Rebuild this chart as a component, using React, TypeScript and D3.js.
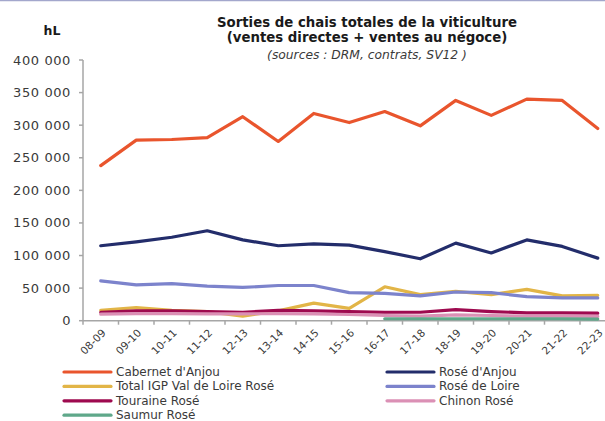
import React from "react";
import * as d3 from "d3";

const categories = ["08-09","09-10","10-11","11-12","12-13","13-14","14-15","15-16","16-17","17-18","18-19","19-20","20-21","21-22","22-23"];
const yTicks = [0, 50000, 100000, 150000, 200000, 250000, 300000, 350000, 400000];

const cabernetAnjou = [238000,277000,278000,281000,313000,275000,318000,304000,321000,299000,338000,315000,340000,338000,295000];
const roseAnjou = [115000,121000,128000,138000,124000,115000,118000,116000,106000,95000,119000,104000,124000,114000,96000];
const igpValLoire = [16000,20000,16000,14000,7000,15000,27000,19000,52000,40000,45000,40000,48000,38000,39000];
const roseLoire = [61000,55000,57000,53000,51000,54000,54000,43000,42000,38000,44000,43000,37000,35000,35000];
const touraineRose = [13000,15000,15000,14000,13000,16000,15000,14000,13000,13000,17000,14000,12000,12000,11500];
const chinonRose = [10000,11000,11000,10500,10500,11000,10500,9500,8000,7000,9000,8000,7000,7000,6500];
const saumurRose = [null,null,null,null,null,null,null,null,3000,3000,3000,3000,3000,3000,2500];

const seriesNames = ["Cabernet d'Anjou","Rosé d'Anjou","Total IGP Val de Loire Rosé","Rosé de Loire","Touraine Rosé","Chinon Rosé","Saumur Rosé"];
const seriesValues = [cabernetAnjou, roseAnjou, igpValLoire, roseLoire, touraineRose, chinonRose, saumurRose];
const seriesColors = ["#E9552D","#232D6B","#E2B547","#7C83CC","#9E0A4F","#DB90B5","#5FA88A"];

export default function App() {
  const W = 605, H = 421;
  const axisX = 83;
  const step = 35.5;
  const x = d3.scalePoint<string>().domain(categories).range([axisX + step / 2, axisX + step / 2 + step * (categories.length - 1)]);
  const y = d3.scaleLinear().domain([0, 400000]).range([320.7, 60]);
  const line = d3.line<number | null>()
    .defined((d) => d !== null)
    .x((_, i) => x(categories[i]) as number)
    .y((d) => y(d as number));
  const fmt = (v: number) => d3.format(",")(v).replace(/,/g, " ");
  const font = "'DejaVu Sans', sans-serif";
  const textColor = "#3a3a3a";
  const axisColor = "#a6a6a6";
  const tickBoundaries = d3.range(categories.length + 1).map((i) => axisX + i * step);

  return (
    <svg width={W} height={H} style={{ position: "fixed", left: 0, top: 0, background: "#fff" }} fontFamily={font}>
      <rect x={0} y={0} width={W} height={H} fill="#fff" />
      <line x1={0} x2={W} y1={0.5} y2={0.5} stroke="#a3a7cc" strokeWidth={1.5} />
      <text x={367} y={27} textAnchor="middle" fontSize={13.3} fontWeight="bold" fill="#1a1a1a">Sorties de chais totales de la viticulture</text>
      <text x={367} y={42} textAnchor="middle" fontSize={13.3} fontWeight="bold" fill="#1a1a1a">(ventes directes + ventes au négoce)</text>
      <text x={367} y={59} textAnchor="middle" fontSize={12.3} fontStyle="italic" fill={textColor}>(sources : DRM, contrats, SV12 )</text>
      <text x={52} y={35} textAnchor="middle" fontSize={12.5} fontWeight="bold" fill="#1a1a1a">hL</text>

      <line x1={axisX} x2={axisX} y1={y(400000)} y2={y(0)} stroke={axisColor} strokeWidth={1.5} />
      {yTicks.map((t) => (
        <g key={t}>
          <line x1={axisX - 4} x2={axisX} y1={y(t)} y2={y(t)} stroke={axisColor} strokeWidth={1.5} />
          <text x={71} y={y(t) + 4.5} textAnchor="end" fontSize={13} letterSpacing={0.6} fill={textColor}>{fmt(t)}</text>
        </g>
      ))}
      <line x1={axisX} x2={W} y1={y(0)} y2={y(0)} stroke={axisColor} strokeWidth={1.5} />
      {tickBoundaries.map((bx, i) => (
        <line key={i} x1={bx} x2={bx} y1={y(0)} y2={y(0) + 4} stroke={axisColor} strokeWidth={1.5} />
      ))}
      {categories.map((c) => (
        <text key={c} transform={`translate(${(x(c) as number) + 3},${331}) rotate(-45)`} textAnchor="end" dy="0.35em" fontSize={10.5} fill={textColor}>{c}</text>
      ))}

      {seriesValues.map((vals, i) => (
        <path key={seriesNames[i]} d={line(vals) || ""} fill="none" stroke={seriesColors[i]} strokeWidth={3.2} strokeLinejoin="round" strokeLinecap="round" />
      ))}

      {seriesNames.map((n, i) => {
        const col = i % 2;
        const row = Math.floor(i / 2);
        const lx = col === 0 ? 64 : 387;
        const ly = 376 + row * 14.4;
        return (
          <g key={n}>
            <line x1={lx} x2={lx + 47} y1={ly - 4} y2={ly - 4} stroke={seriesColors[i]} strokeWidth={3.2} strokeLinecap="round" />
            <text x={lx + 52} y={ly} fontSize={12} fill={textColor}>{n}</text>
          </g>
        );
      })}
    </svg>
  );
}
